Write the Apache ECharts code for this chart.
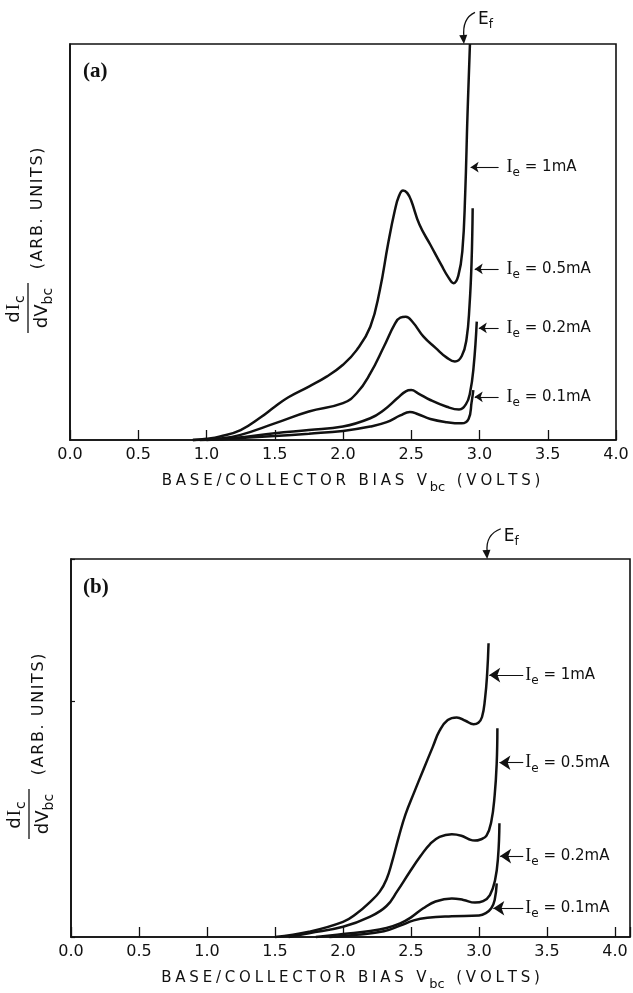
<!DOCTYPE html>
<html><head><meta charset="utf-8">
<script src="https://cdn.jsdelivr.net/npm/echarts@6/dist/echarts.min.js"></script>
<style>html,body{margin:0;padding:0;background:#fff}#c{width:633px;height:993px}</style>
</head><body><div id="c"></div>
<script>
// ---------- data ----------
const tickLabelsX = ['0.0','0.5','1.0','1.5','2.0','2.5','3.0','3.5','4.0'];
const currents = ['1mA','0.5mA','0.2mA','0.1mA'];
const panelTags = ['(a)','(b)'];

// Panel (a): [Vbc, dIc/dVbc (arb.)]
const a1mA = [[0.9,0],[1.0,0.3],[1.1,0.9],[1.25,2.5],[1.4,5.8],[1.5,8.4],[1.6,10.8],[1.75,13.5],[1.88,16],[2.0,19],[2.1,22.7],[2.2,28.6],[2.27,37.9],[2.33,49.5],[2.38,58],[2.41,61.6],[2.44,63],[2.47,62.4],[2.5,60.4],[2.56,54.4],[2.64,49.3],[2.72,44.2],[2.77,41.2],[2.81,39.6],[2.845,41.5],[2.875,48],[2.895,62],[2.912,82],[2.93,100]];
const a05mA = [[0.9,0],[1.1,0.4],[1.25,1.3],[1.5,4.2],[1.75,7.2],[2.0,9.3],[2.1,11.8],[2.2,16.8],[2.3,23.6],[2.38,29.3],[2.42,30.9],[2.46,31.1],[2.51,29.8],[2.59,26.1],[2.68,23.2],[2.76,20.8],[2.82,19.8],[2.87,21.2],[2.905,25.5],[2.927,34],[2.942,45],[2.95,58.5]];
const a02mA = [[0.95,0],[1.2,0.5],[1.5,1.7],[1.75,2.5],[2.0,3.4],[2.2,5.5],[2.3,7.6],[2.4,10.6],[2.46,12.3],[2.5,12.6],[2.55,11.8],[2.64,10.1],[2.76,8.4],[2.85,7.7],[2.9,9.0],[2.93,11.8],[2.957,18.5],[2.98,29.9]];
const a01mA = [[1.0,0],[1.25,0.5],[1.5,1.0],[1.75,1.6],[2.0,2.3],[2.2,3.4],[2.32,4.5],[2.42,6.2],[2.49,7.1],[2.55,6.5],[2.64,5.3],[2.76,4.5],[2.87,4.2],[2.92,5.3],[2.942,9.5],[2.955,12.6]];

// Panel (b)
const b1mA = [[1.5,0],[1.75,1.4],[2.0,4.0],[2.1,6.2],[2.2,9.3],[2.27,12],[2.32,15.3],[2.36,19.8],[2.41,26.5],[2.46,32.5],[2.52,38],[2.59,44.2],[2.66,50.3],[2.71,54.6],[2.77,57.4],[2.836,58.1],[2.9,57.2],[2.96,56.3],[2.995,56.7],[3.022,58.2],[3.044,63],[3.06,69.8],[3.07,77.7]];
const b05mA = [[1.6,0],[1.75,1.0],[2.0,2.7],[2.2,5.4],[2.32,8.2],[2.4,12.2],[2.49,17.2],[2.57,21.4],[2.64,24.6],[2.71,26.5],[2.8,27.2],[2.87,26.8],[2.93,25.8],[2.97,25.5],[3.01,25.8],[3.055,26.8],[3.09,30.5],[3.115,37.5],[3.13,46],[3.135,55.2]];
const b02mA = [[1.8,0],[2.0,0.8],[2.2,1.6],[2.32,2.4],[2.42,3.6],[2.5,5.2],[2.59,7.6],[2.68,9.4],[2.8,10.2],[2.885,9.8],[2.97,9.1],[3.03,9.5],[3.08,11.1],[3.118,15.1],[3.14,21.2],[3.15,30.1]];
const b01mA = [[1.9,0],[2.1,0.6],[2.3,1.5],[2.42,3.0],[2.52,4.4],[2.62,5.1],[2.8,5.5],[3.0,5.7],[3.05,6.3],[3.09,7.6],[3.115,9.8],[3.13,14.2]];

// label arrows: [tail Vbc, tip Vbc, level]
const arrowsA = [[3.14,2.935,68.9],[3.14,2.965,43.2],[3.14,2.995,28.3],[3.14,2.965,10.9]];
const arrowsB = [[3.325,3.075,69.3],[3.325,3.15,46.1],[3.325,3.155,21.4],[3.325,3.105,7.6]];
// Fermi level pointer: [start V, start level, tip V, tip level]
const fermiA = [2.967,108,2.886,100];
const fermiB = [3.16,108,3.06,100];

// ---------- chart ----------
const INK = '#111';
const SANS = 'DejaVu Sans';
const chart = echarts.init(document.getElementById('c'), null, {renderer:'canvas'});

function fmtX(v){
  const i = Math.round(v/0.5);
  return (Math.abs(v - i*0.5) < 1e-6 && tickLabelsX[i] !== undefined) ? tickLabelsX[i] : '';
}
function spaced(str, st){ return str.split('').map(c => '{'+st+'|'+c+'}').join(''); }

const labelRich = {
  i:{fontFamily:'Liberation Serif', fontSize:18, color:INK},
  s:{fontFamily:SANS, fontSize:12, color:INK, padding:[12,0,0,0]},
  t:{fontFamily:SANS, fontSize:15, color:INK}
};
function curve(data, gi, arrow, cur, big){
  return {
    type:'line', xAxisIndex:gi, yAxisIndex:gi, data:data, symbol:'none', showSymbol:false,
    smooth:0.45, clip:false, silent:true, animation:false,
    lineStyle:{color:INK, width:2.5},
    markLine:{
      silent:true, animation:false, symbol:['none','arrow'], symbolSize: big ? 11 : 8,
      lineStyle:{color:INK, width:1.1, type:'solid'},
      emphasis:{disabled:true},
      label:{show:true, position:'start', distance: big ? 2 : 8,
        formatter:'{i|I}{s|e}{t| = '+cur+'}', rich:labelRich},
      data: [[{coord:[arrow[0],arrow[2]]},{coord:[arrow[1],arrow[2]]}]]
    }
  };
}
function xAx(gi, max){
  return {
    gridIndex:gi, type:'value', min:0, max:max, interval:0.5,
    axisLine:{show:true, onZero:false, lineStyle:{color:INK, width:1.6}},
    axisTick:{show:true, inside:true, length:10, lineStyle:{color:INK, width:1.3}},
    axisLabel:{show:true, margin:7, color:INK, fontSize:16, fontFamily:SANS, formatter:fmtX},
    splitLine:{show:false},
    name: spaced('BASE/COLLECTOR BIAS V','n') + '{s|bc}' + spaced(' (VOLTS)','n'),
    nameLocation:'middle', nameGap:29,
    nameTextStyle:{padding: gi===0 ? [0,0,0,16] : [0,0,0,0], rich:{
      n:{fontFamily:SANS, fontSize:15, color:INK, padding:[0,1.9,0,1.9]},
      s:{fontFamily:SANS, fontSize:13, color:INK, padding:[12,1,0,1]}
    }}
  };
}
function yAx(gi, tick){
  return {
    gridIndex:gi, type:'value', min:0, max:100, interval: tick ? 62.5 : 50,
    axisLine:{show:true, lineStyle:{color:INK, width:1.6}},
    axisTick:{show:!!tick, inside:true, length:4, lineStyle:{color:INK, width:1.2}},
    axisLabel:{show:false}, splitLine:{show:false}
  };
}

const option = {
  backgroundColor:'#fff',
  animation:false,
  grid:[
    {left:70, top:44, width:546, height:396, show:true, borderColor:INK, borderWidth:1.6, backgroundColor:'transparent', outerBoundsMode:'none', containLabel:false},
    {left:71, top:559, width:559, height:378, show:true, borderColor:INK, borderWidth:1.6, backgroundColor:'transparent', outerBoundsMode:'none', containLabel:false}
  ],
  xAxis:[xAx(0,4), xAx(1,4.11)],
  yAxis:[yAx(0,false), yAx(1,true)],
  series:[
    curve(a1mA,0,arrowsA[0],currents[0],false),
    curve(a05mA,0,arrowsA[1],currents[1],false),
    curve(a02mA,0,arrowsA[2],currents[2],false),
    curve(a01mA,0,arrowsA[3],currents[3],false),
    curve(b1mA,1,arrowsB[0],currents[0],true),
    curve(b05mA,1,arrowsB[1],currents[1],true),
    curve(b02mA,1,arrowsB[2],currents[2],true),
    curve(b01mA,1,arrowsB[3],currents[3],true)
  ]
};
chart.setOption(option);

// ---------- annotations ----------
function yTitle(cx, cy){
  return {
    type:'group', x:cx, y:cy, rotation:Math.PI/2, silent:true,
    children:[
      {type:'text', x:-67, y:-1, style:{text:'{d|d}{i|I}{s|c}', align:'center', verticalAlign:'bottom',
        rich:{d:{fontFamily:SANS,fontSize:18,fill:INK}, i:{fontFamily:'Liberation Serif',fontSize:19,fill:INK,padding:[0,1,0,1]}, s:{fontFamily:SANS,fontSize:14,fill:INK,padding:[11,0,0,0]}}}},
      {type:'line', shape:{x1:-91, y1:0, x2:-41, y2:0}, style:{stroke:INK, lineWidth:1.3}},
      {type:'text', x:-66, y:2, style:{text:'{d|dV}{s|bc}', align:'center', verticalAlign:'top',
        rich:{d:{fontFamily:SANS,fontSize:18,fill:INK}, s:{fontFamily:SANS,fontSize:14,fill:INK,padding:[11,0,0,0]}}}},
      {type:'text', x:-28, y:10, style:{text:spaced('(ARB. UNITS)','u'), align:'left', verticalAlign:'middle',
        rich:{u:{fontFamily:SANS, fontSize:16, fill:INK, padding:[0,0.8,0,0.8]}}}}
    ]
  };
}
function fermi(gi, f){
  const p0 = chart.convertToPixel({gridIndex:gi}, [f[0], f[1]]);
  const p1 = chart.convertToPixel({gridIndex:gi}, [f[2], f[3]]);
  const cp = [p1[0] - 2, p0[1] + 6];
  let dx = p1[0]-cp[0], dy = p1[1]-cp[1];
  const L = Math.hypot(dx,dy); dx/=L; dy/=L;
  const nx = -dy, ny = dx, h = 9, w = 4;
  return [
    {type:'bezierCurve', silent:true, shape:{x1:p0[0], y1:p0[1], x2:p1[0], y2:p1[1]-h+2, cpx1:cp[0], cpy1:cp[1]},
      style:{stroke:INK, lineWidth:1.3, fill:null}},
    {type:'polygon', silent:true, shape:{points:[[p1[0],p1[1]],[p1[0]-dx*h+nx*w,p1[1]-dy*h+ny*w],[p1[0]-dx*h-nx*w,p1[1]-dy*h-ny*w]]},
      style:{fill:INK}},
    {type:'text', x:p0[0]+3, y:p0[1]-4, silent:true, style:{text:'{e|E}{f|f}', align:'left', verticalAlign:'top',
      rich:{e:{fontFamily:SANS, fontSize:17, fill:INK}, f:{fontFamily:SANS, fontSize:12, fill:INK, padding:[11,0,0,0]}}}}
  ];
}
const gA = chart.getModel().getComponent('grid',0).coordinateSystem.getRect();
const gB = chart.getModel().getComponent('grid',1).coordinateSystem.getRect();
chart.setOption({graphic:[
  yTitle(28, gA.y + gA.height/2),
  yTitle(29, gB.y + gB.height/2),
  {type:'text', x:gA.x+13, y:gA.y+28, silent:true, style:{text:panelTags[0], align:'left', verticalAlign:'middle', fontFamily:'Liberation Serif', fontWeight:'bold', fontSize:21, fill:INK}},
  {type:'text', x:gB.x+12, y:gB.y+29, silent:true, style:{text:panelTags[1], align:'left', verticalAlign:'middle', fontFamily:'Liberation Serif', fontWeight:'bold', fontSize:21, fill:INK}}
].concat(fermi(0, fermiA), fermi(1, fermiB))});
</script>
</body></html>
